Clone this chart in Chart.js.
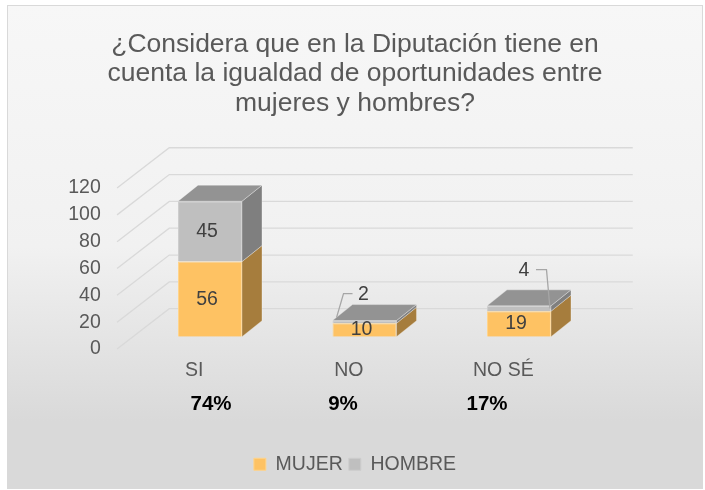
<!DOCTYPE html>
<html>
<head>
<meta charset="utf-8">
<title>Igualdad de oportunidades</title>
<script src="https://cdn.jsdelivr.net/npm/chart.js@4.4.1/dist/chart.umd.min.js"></script>
<style>
  body { margin: 0; background: #ffffff; }
  canvas { display: block; }
</style>
</head>
<body>
<canvas id="myChart" width="705" height="490"></canvas>
<script>
const categories = ["SI", "NO", "NO SÉ"];
const mujer = [56, 10, 19];
const hombre = [45, 2, 4];
const percentages = ["74%", "9%", "17%"];
const yMin = 0, yMax = 120, yStep = 20;

const titleLines = [
  "¿Considera que en la Diputación tiene en",
  "cuenta la igualdad de oportunidades entre",
  "mujeres y hombres?"
];

Chart.defaults.font.family = "'Liberation Sans', Arial, sans-serif";
Chart.defaults.color = "#595959";

// where the front / back planes of the 3d box sit compared to the bar fronts
const front = { dx: -15.7, dy: 12.3 };
const back = { dx: 36.5, dy: -28 };
const depth = { dx: 20, dy: -16 };
// small nudges of the percent text boxes
const pctShift = [1, -21.5, -32];

/* background + border */
const background = {
  id: "background",
  beforeDraw(chart) {
    const ctx = chart.ctx;
    ctx.save();
    ctx.fillStyle = "#ffffff";
    ctx.fillRect(0, 0, chart.width, chart.height);
    let g = ctx.createLinearGradient(0, 5, 0, 489);
    g.addColorStop(0, "#f7f7f7");
    g.addColorStop(0.5, "#f1f1f1");
    g.addColorStop(0.86, "#d9d9d9");
    g.addColorStop(1, "#d9d9d9");
    ctx.fillStyle = g;
    ctx.fillRect(7, 5, 696, 484);
    ctx.strokeStyle = "#d9d9d9";
    ctx.lineWidth = 1;
    ctx.strokeRect(7.5, 5.5, 695, 483);
    ctx.restore();
  }
};

/* gridlines on the left wall and back wall */
const walls = {
  id: "walls",
  beforeDatasetsDraw(chart) {
    const { ctx, chartArea } = chart;
    const y = chart.scales.y;
    ctx.save();
    ctx.strokeStyle = "#d9d9d9";
    ctx.lineWidth = 1.3;
    y.ticks.forEach(function (t) {
      const py = y.getPixelForValue(t.value);
      ctx.beginPath();
      ctx.moveTo(chartArea.left + front.dx, py + front.dy);
      ctx.lineTo(chartArea.left + back.dx, py + back.dy);
      ctx.lineTo(chartArea.right + back.dx, py + back.dy);
      ctx.stroke();
    });
    ctx.restore();
  }
};

function face(ctx, pts, fill) {
  ctx.beginPath();
  ctx.moveTo(pts[0][0], pts[0][1]);
  for (let i = 1; i < pts.length; i++) ctx.lineTo(pts[i][0], pts[i][1]);
  ctx.closePath();
  ctx.fillStyle = fill;
  ctx.fill();
  ctx.strokeStyle = "rgba(255,255,255,0.3)";
  ctx.lineWidth = 1;
  ctx.stroke();
}

/* side and top faces of the bars */
const bars3d = {
  id: "bars3d",
  afterDatasetsDraw(chart) {
    const ctx = chart.ctx;
    ctx.save();
    categories.forEach(function (c, i) {
      let top = null;
      chart.data.datasets.forEach(function (ds, di) {
        const el = chart.getDatasetMeta(di).data[i];
        const p = el.getProps(["x", "y", "base", "width"], true);
        const r = p.x + p.width / 2;
        face(ctx, [[r, p.y], [r + depth.dx, p.y + depth.dy], [r + depth.dx, p.base + depth.dy], [r, p.base]], ds.sideColor);
        if (!top || p.y < top.y) top = { x: p.x, y: p.y, width: p.width, color: ds.topColor };
      });
      const l = top.x - top.width / 2, r = top.x + top.width / 2;
      face(ctx, [[l, top.y], [l + depth.dx, top.y + depth.dy], [r + depth.dx, top.y + depth.dy], [r, top.y]], top.color);
    });
    ctx.restore();
  }
};

// leader lines for the thin segments
const leaders = {
  1: function (p) {
    const ax = p.x - p.width / 2 + 4, ay = p.y - 3;
    return { pts: [[ax, ay], [ax + 7, ay - 24], [ax + 16, ay - 24]], lx: ax + 27, ly: ay - 23 };
  },
  2: function (p) {
    const ax = p.x + p.width / 2 - 1, ay = (p.y + p.base) / 2;
    return { pts: [[ax, ay], [ax - 3.5, ay - 39], [ax - 14, ay - 39]], lx: ax - 26, ly: ay - 38 };
  }
};

/* value labels and the percent row */
const labels = {
  id: "labels",
  afterDatasetsDraw(chart) {
    const ctx = chart.ctx;
    ctx.save();
    ctx.textAlign = "center";
    ctx.textBaseline = "middle";
    ctx.font = "19.5px 'Liberation Sans', Arial, sans-serif";
    chart.data.datasets.forEach(function (ds, di) {
      chart.getDatasetMeta(di).data.forEach(function (el, i) {
        const p = el.getProps(["x", "y", "base", "width"], true);
        const h = p.base - p.y;
        ctx.fillStyle = "#404040";
        if (h < 12 && leaders[i]) {
          const L = leaders[i](p);
          ctx.strokeStyle = "#a6a6a6";
          ctx.lineWidth = 1.3;
          ctx.beginPath();
          ctx.moveTo(L.pts[0][0], L.pts[0][1]);
          ctx.lineTo(L.pts[1][0], L.pts[1][1]);
          ctx.lineTo(L.pts[2][0], L.pts[2][1]);
          ctx.stroke();
          ctx.fillText(ds.data[i], L.lx, L.ly);
        } else {
          ctx.fillText(ds.data[i], p.x - 3, (p.y + p.base) / 2);
        }
      });
    });
    const x = chart.scales.x;
    ctx.fillStyle = "#000000";
    ctx.font = "bold 20.5px 'Liberation Sans', Arial, sans-serif";
    percentages.forEach(function (t, i) {
      ctx.fillText(t, x.getPixelForValue(i) + pctShift[i], chart.chartArea.bottom + 68);
    });
    ctx.restore();
  }
};

var ctx = document.getElementById("myChart").getContext("2d");
var myChart = new Chart(ctx, {
  type: "bar",
  data: {
    labels: categories,
    datasets: [
      {
        label: "MUJER",
        data: mujer,
        backgroundColor: "#fec263",
        borderColor: "#ffd48a",
        borderWidth: 1,
        sideColor: "#a67d3d",
        topColor: "#e0a94f",
        yAxisID: "y"
      },
      {
        label: "HOMBRE",
        data: hombre,
        backgroundColor: "#bfbfbf",
        borderColor: "#cdcdcd",
        borderWidth: 1,
        sideColor: "#7f7f7f",
        topColor: "#939393",
        yAxisID: "y"
      }
    ]
  },
  options: {
    responsive: false,
    animation: false,
    events: [],
    barPercentage: 0.414,
    categoryPercentage: 1,
    layout: { padding: { top: 5, left: 5, right: 0, bottom: 6 } },
    scales: {
      y: {
        stacked: true,
        min: yMin,
        max: yMax,
        grid: { display: false, drawTicks: false },
        border: { display: false },
        ticks: {
          stepSize: yStep,
          padding: 32,
          labelOffset: front.dy,
          font: { size: 19.5 },
          color: "#595959"
        },
        afterFit: function (s) { s.width = 127.75; }
      },
      yRight: {
        position: "right",
        display: true,
        grid: { display: false, drawTicks: false },
        border: { display: false },
        ticks: { display: false },
        afterFit: function (s) { s.width = 108.75; }
      },
      x: {
        stacked: true,
        grid: { display: false, drawTicks: false },
        border: { display: false },
        ticks: {
          padding: 22.6,
          labelOffset: front.dx,
          font: { size: 19.5 },
          color: "#595959"
        },
        afterFit: function (s) { s.height = 111.8; }
      }
    },
    plugins: {
      title: {
        display: true,
        text: titleLines,
        color: "#595959",
        font: { size: 26.5, weight: "normal", lineHeight: 1.11 },
        padding: { top: 25, bottom: 57.5 }
      },
      legend: {
        position: "bottom",
        labels: {
          boxWidth: 12,
          boxHeight: 12,
          padding: 6,
          color: "#595959",
          font: { size: 19.5 }
        }
      },
      tooltip: { enabled: false }
    }
  },
  plugins: [background, walls, bars3d, labels]
});
</script>
</body>
</html>
